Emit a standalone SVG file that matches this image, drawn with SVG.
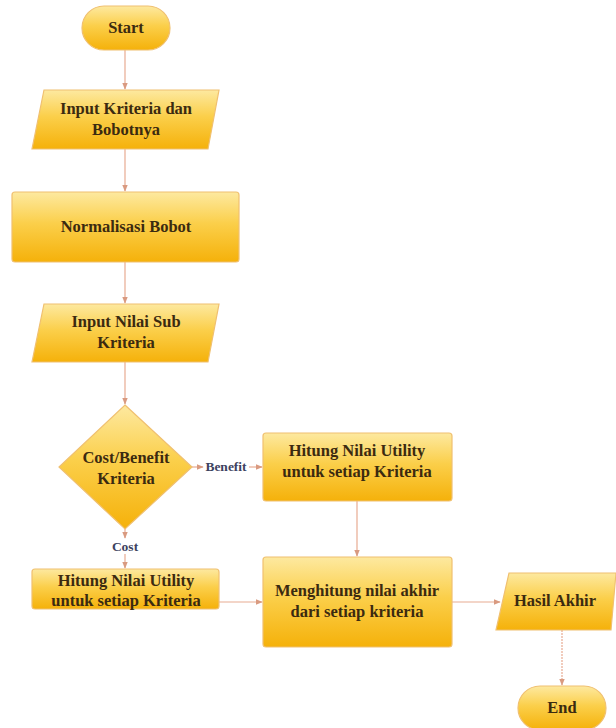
<svg xmlns="http://www.w3.org/2000/svg" width="616" height="728" viewBox="0 0 616 728">
<defs>
<linearGradient id="g" x1="0" y1="0" x2="0" y2="1">
<stop offset="0" stop-color="#fde9a0"/>
<stop offset="0.45" stop-color="#fbcf4a"/>
<stop offset="1" stop-color="#f5b10a"/>
</linearGradient>
<marker id="ah" viewBox="0 0 10 10" refX="9" refY="5" markerWidth="6" markerHeight="6" orient="auto">
<path d="M0,1 L10,5 L0,9 z" fill="#d99a80"/>
</marker>
</defs>
<style>
.n{fill:url(#g);stroke:#f0c070;stroke-width:1.2}
.t{font-family:"Liberation Serif",serif;font-weight:bold;font-size:16.5px;fill:#3b2a10;text-anchor:middle}
.c{fill:none;stroke:#e8ab92;stroke-width:1.2;marker-end:url(#ah)}
.l{font-family:"Liberation Serif",serif;font-weight:bold;font-size:13.5px;fill:#3d4260;text-anchor:middle}
</style>
<rect width="616" height="728" fill="#ffffff"/>
<g id="connectors">
<path class="c" d="M125,50 V89"/>
<path class="c" d="M125,149 V191"/>
<path class="c" d="M125,262 V303"/>
<path class="c" d="M125,362 V404"/>
<path class="c" d="M192,467 H203"/>
<path class="c" d="M249,467 H262"/>
<path class="c" d="M125,529 V538"/>
<path class="c" d="M125,554 V568"/>
<path class="c" d="M357,501 V556"/>
<path class="c" d="M219,602 H262"/>
<path class="c" d="M452,602 H500"/>
<path class="c" d="M562,630 V685" stroke-dasharray="2,1"/>
<text class="l" x="226" y="471">Benefit</text>
<text class="l" x="125" y="551">Cost</text>
</g>
<g id="start">
<rect class="n" x="82" y="6" width="88" height="44" rx="22"/>
<text class="t" x="126" y="33">Start</text>
</g>
<g id="input-kriteria">
<polygon class="n" points="44,90 219,90 208,149 32,149"/>
<text class="t" x="126" y="114">Input Kriteria dan</text>
<text class="t" x="126" y="135">Bobotnya</text>
</g>
<g id="normalisasi">
<rect class="n" x="12" y="192" width="227" height="70" rx="3"/>
<text class="t" x="126" y="232">Normalisasi Bobot</text>
</g>
<g id="input-nilai">
<polygon class="n" points="44,304 219,304 208,362 32,362"/>
<text class="t" x="126" y="327">Input Nilai Sub</text>
<text class="t" x="126" y="348">Kriteria</text>
</g>
<g id="decision">
<polygon class="n" points="125,405 192,467 125,529 59,467"/>
<text class="t" x="126" y="463">Cost/Benefit</text>
<text class="t" x="126" y="484">Kriteria</text>
</g>
<g id="utility-benefit">
<rect class="n" x="263" y="433" width="189" height="68" rx="3"/>
<text class="t" x="357" y="456">Hitung Nilai Utility</text>
<text class="t" x="357" y="477">untuk setiap Kriteria</text>
</g>
<g id="utility-cost">
<rect class="n" x="32" y="569" width="187" height="40" rx="3"/>
<text class="t" x="126" y="586">Hitung Nilai Utility</text>
<text class="t" x="126" y="606">untuk setiap Kriteria</text>
</g>
<g id="menghitung">
<rect class="n" x="263" y="557" width="189" height="90" rx="3"/>
<text class="t" x="357" y="596">Menghitung nilai akhir</text>
<text class="t" x="357" y="617">dari setiap kriteria</text>
</g>
<g id="hasil">
<polygon class="n" points="509,573 616,573 611,630 496,630"/>
<text class="t" x="555" y="606">Hasil Akhir</text>
</g>
<g id="end">
<rect class="n" x="518" y="686" width="88" height="44" rx="22"/>
<text class="t" x="562" y="713">End</text>
</g>
</svg>
